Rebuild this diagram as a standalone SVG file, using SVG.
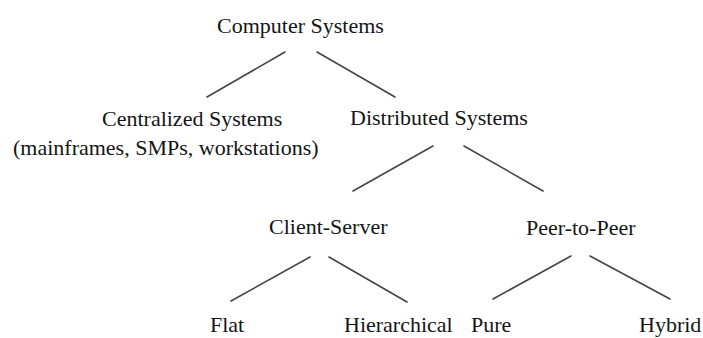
<svg xmlns="http://www.w3.org/2000/svg" width="703" height="338" viewBox="0 0 703 338">
<style>
text{font-family:"Liberation Serif","Times New Roman",serif;font-size:22px;fill:#151515}
line{stroke:#454545;stroke-width:1.6;stroke-linecap:round}
</style>
<rect width="703" height="338" fill="#fff"/>
<g id="connectors">
<line x1="285" y1="52" x2="207" y2="97"/>
<line x1="317" y1="52" x2="395" y2="97"/>
<line x1="433" y1="146" x2="353" y2="191"/>
<line x1="464" y1="146" x2="543" y2="191"/>
<line x1="310" y1="257" x2="231" y2="301"/>
<line x1="329" y1="257" x2="407" y2="302"/>
<line x1="571" y1="256" x2="493" y2="299"/>
<line x1="590" y1="256" x2="670" y2="299"/>
</g>
<g id="computer-systems"><text x="217" y="33">Computer Systems</text></g>
<g id="centralized-systems"><text x="102" y="126">Centralized Systems</text><text x="13" y="155">(mainframes, SMPs, workstations)</text></g>
<g id="distributed-systems"><text x="350" y="125">Distributed Systems</text></g>
<g id="client-server"><text x="269" y="234">Client-Server</text></g>
<g id="peer-to-peer"><text x="526" y="235">Peer-to-Peer</text></g>
<g id="flat"><text x="210" y="332">Flat</text></g>
<g id="hierarchical"><text x="344" y="332">Hierarchical</text></g>
<g id="pure"><text x="471" y="332">Pure</text></g>
<g id="hybrid"><text x="639" y="332">Hybrid</text></g>
</svg>
